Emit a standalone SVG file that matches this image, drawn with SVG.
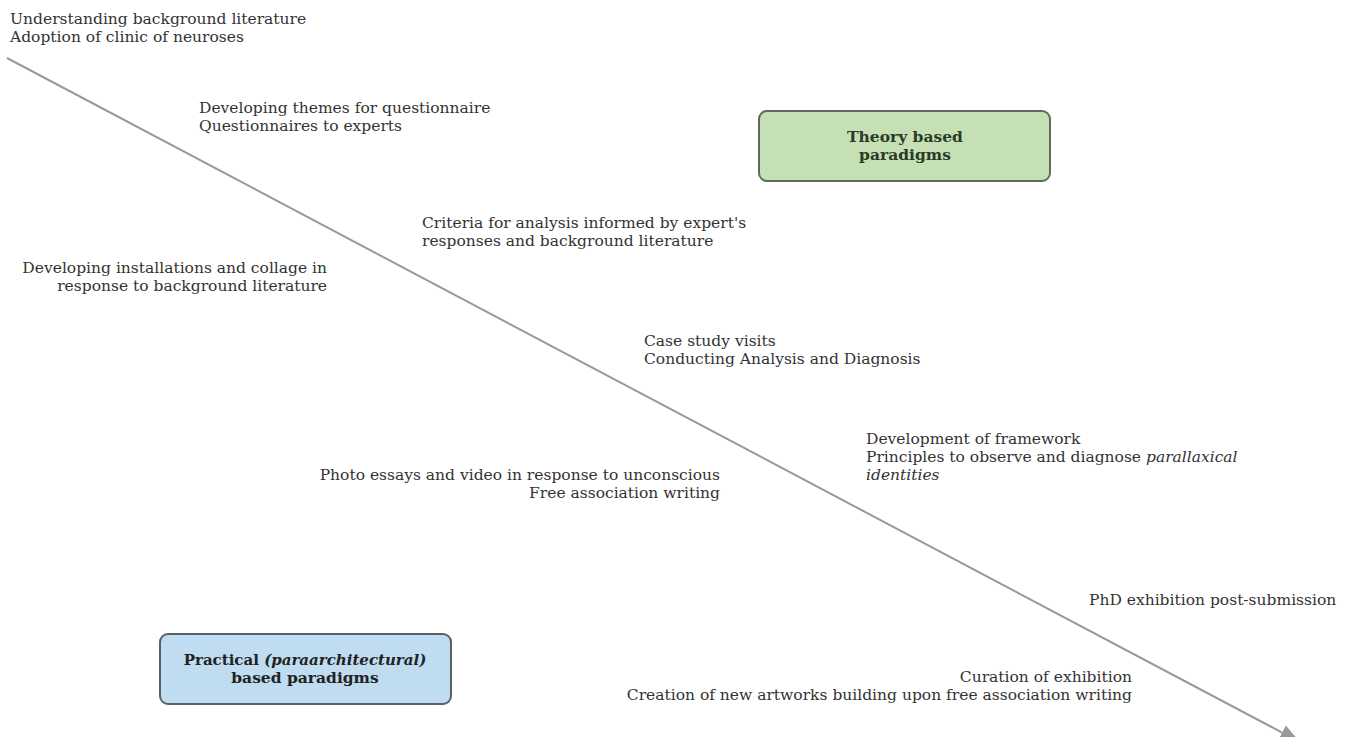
<svg xmlns="http://www.w3.org/2000/svg" width="1358" height="737" viewBox="0 0 1358 737">
<style>
text{font-family:'DejaVu Serif',serif;font-size:15.5px;fill:#333}
.r{text-anchor:end}
.c{text-anchor:middle}
.b{font-weight:bold;font-size:15.5px}
.i{font-style:italic}
</style>
<defs>
<marker id="ah" markerWidth="20" markerHeight="16" refX="18" refY="8" orient="auto" markerUnits="userSpaceOnUse" viewBox="0 0 20 16">
<path d="M0,0 L20,8 L0,16 z" fill="#999"/>
</marker>
</defs>
<rect width="1358" height="737" fill="#fff"/>
<g id="connectors">
<line x1="7" y1="58" x2="1298" y2="741" stroke="#999" stroke-width="2" marker-end="url(#ah)"/>
</g>
<g id="theory">
<rect x="759" y="111" width="291" height="70" rx="8" fill="#c5e0b4" stroke="#5f6b5a" stroke-width="2"/>
<text class="c b" x="905" y="142" style="fill:#2b3a28">Theory based</text>
<text class="c b" x="905" y="160" style="fill:#2b3a28">paradigms</text>
</g>
<g id="practical">
<rect x="160" y="634" width="291" height="70" rx="8" fill="#bfdcf0" stroke="#5a6068" stroke-width="2"/>
<text class="c b" x="305" y="665" style="fill:#222;font-size:15px">Practical <tspan class="i">(paraarchitectural)</tspan></text>
<text class="c b" x="305" y="683" style="fill:#222">based paradigms</text>
</g>
<g id="t1"><text x="10" y="24">Understanding background literature</text><text x="10" y="42">Adoption of clinic of neuroses</text></g>
<g id="t2"><text x="199" y="113">Developing themes for questionnaire</text><text x="199" y="131">Questionnaires to experts</text></g>
<g id="t3"><text x="422" y="228">Criteria for analysis informed by expert's</text><text x="422" y="246">responses and background literature</text></g>
<g id="t4"><text class="r" x="327" y="273">Developing installations and collage in</text><text class="r" x="327" y="291">response to background literature</text></g>
<g id="t5"><text x="644" y="346">Case study visits</text><text x="644" y="364">Conducting Analysis and Diagnosis</text></g>
<g id="t6"><text x="866" y="444">Development of framework</text><text x="866" y="462">Principles to observe and diagnose <tspan class="i">parallaxical</tspan></text><text class="i" x="866" y="480">identities</text></g>
<g id="t7"><text class="r" x="720" y="480">Photo essays and video in response to unconscious</text><text class="r" x="720" y="498">Free association writing</text></g>
<g id="t8"><text x="1089" y="605">PhD exhibition post-submission</text></g>
<g id="t9"><text class="r" x="1132" y="682">Curation of exhibition</text><text class="r" x="1132" y="700">Creation of new artworks building upon free association writing</text></g>
</svg>
